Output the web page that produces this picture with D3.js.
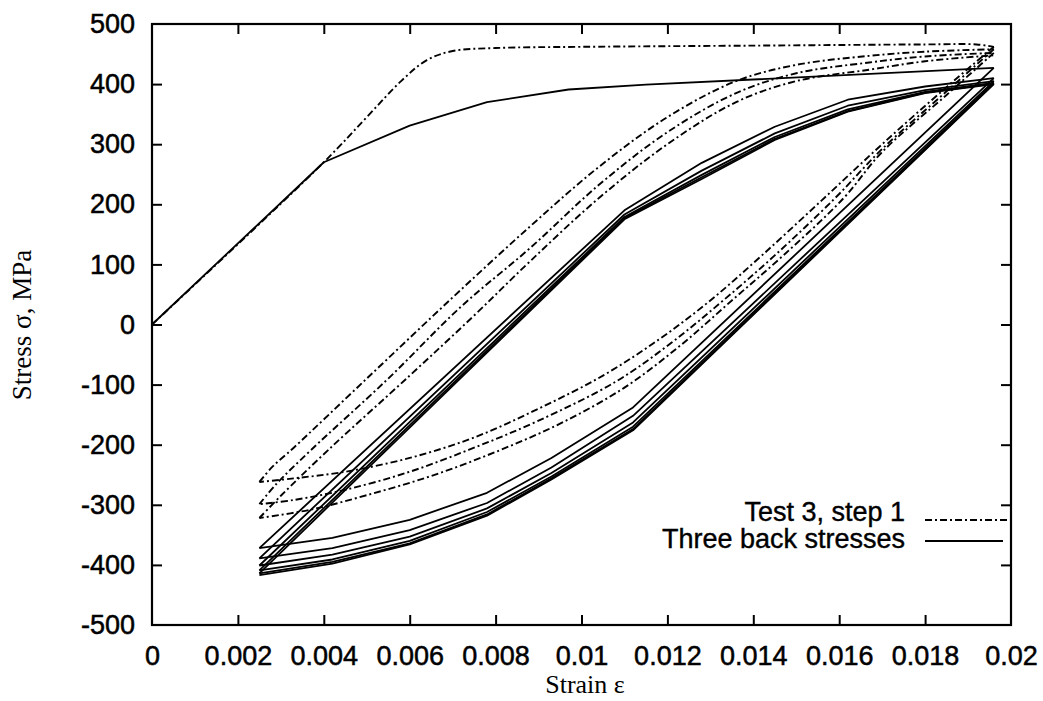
<!DOCTYPE html>
<html>
<head>
<meta charset="utf-8">
<script src="https://cdn.jsdelivr.net/npm/d3@7"></script>
<style>
  html, body { margin: 0; padding: 0; background: #fff; }
  svg { display: block; }
</style>
</head>
<body>
<svg id="chart" width="1043" height="701"></svg>
<script>
// ---- axis ticks ----
const strainTicks = [0, 0.002, 0.004, 0.006, 0.008, 0.01, 0.012, 0.014, 0.016, 0.018, 0.02];
const strainTickLabels = ["0", "0.002", "0.004", "0.006", "0.008", "0.01", "0.012", "0.014", "0.016", "0.018", "0.02"];
const stressTicks = [-500, -400, -300, -200, -100, 0, 100, 200, 300, 400, 500];
const stressTickLabels = ["-500", "-400", "-300", "-200", "-100", "0", "100", "200", "300", "400", "500"];

// ---- model with three back stresses (solid) ----
const modelInitial = [[0, 0], [0.004, 270], [0.006, 331], [0.0078, 370], [0.0097, 391], [0.0115, 399], [0.0196, 427]];
// unloading branches share strain vertices
const modelUnloadStrain = [0.0196, 0.0112, 0.0093, 0.0078, 0.006, 0.0042, 0.0025];
const modelUnloadStress = [
  [427, -138, -222, -280, -325, -355, -372],
  [410, -152, -238, -297, -342, -372, -389],
  [405, -163, -247, -306, -353, -383, -401],
  [402, -170, -253, -312, -360, -391, -409],
  [401, -174, -256, -316, -364, -395, -414],
  [400, -176, -258, -318, -366, -398, -417]
];
// reloading branches share strain vertices
const modelReloadStrain = [0.0025, 0.011, 0.0128, 0.0145, 0.0162, 0.018, 0.0196];
const modelReloadStress = [
  [-372, 190, 269, 329, 374, 396, 410],
  [-389, 183, 256, 318, 364, 390, 405],
  [-401, 179, 249, 312, 358, 387, 402],
  [-409, 177, 245, 309, 355, 386, 401],
  [-414, 175, 242, 307, 354, 385, 400]
];

// ---- Test 3, step 1 (dash-dot) ----
const testInitial = [[0, 0], [0.004, 270], [0.005, 345], [0.0058, 405], [0.0064, 440], [0.007, 455], [0.008, 460],
  [0.01, 462], [0.014, 464], [0.018, 466], [0.0192, 466], [0.0196, 462]];
const testUnload1 = [[0.0196, 462], [0.0185, 395], [0.017, 300], [0.0156, 207], [0.0142, 115], [0.013, 40], [0.0118, -25],
  [0.0105, -85], [0.009, -140], [0.0075, -188], [0.006, -222], [0.0045, -245], [0.0033, -256], [0.0025, -262]];
const testReload1 = [[0.0025, -262], [0.0028, -237], [0.0033, -205], [0.005, -90], [0.007, 45], [0.0088, 163], [0.0104, 262],
  [0.012, 345], [0.0136, 405], [0.015, 432], [0.0167, 447], [0.018, 454], [0.0196, 458]];
const testUnload2 = [[0.0196, 458], [0.0185, 388], [0.017, 292], [0.0159, 210], [0.0145, 115], [0.0133, 40], [0.0121, -30],
  [0.0108, -95], [0.009, -160], [0.0075, -205], [0.006, -245], [0.0045, -275], [0.0033, -292], [0.0025, -299]];
const testReload2 = [[0.0025, -299], [0.0029, -265], [0.0037, -209], [0.0055, -90], [0.0072, 30], [0.0088, 127], [0.0104, 232],
  [0.012, 320], [0.0136, 385], [0.015, 418], [0.0167, 436], [0.018, 446], [0.0196, 452]];
const testUnload3 = [[0.0196, 452], [0.0185, 382], [0.017, 287], [0.0161, 210], [0.0147, 115], [0.0135, 40], [0.0123, -35],
  [0.011, -105], [0.0095, -165], [0.008, -212], [0.0065, -252], [0.005, -284], [0.0037, -308], [0.0025, -322]];
const testReload3 = [[0.0025, -322], [0.003, -285], [0.0041, -209], [0.006, -85], [0.0075, 15], [0.0088, 105], [0.0104, 210],
  [0.012, 300], [0.0136, 370], [0.015, 405], [0.0167, 424], [0.018, 438], [0.0196, 448]];

const legendLabels = ["Test 3, step 1", "Three back stresses"];

// ---- layout ----
const svg = d3.select("#chart");
const frame = { left: 152, right: 1011, top: 24, bottom: 625 };
const x = d3.scaleLinear().domain([0, 0.02]).range([frame.left, frame.right]);
const y = d3.scaleLinear().domain([-500, 500]).range([frame.bottom, frame.top]);

const sans = "'Liberation Sans', Arial, Helvetica, sans-serif";
const serif = "'Liberation Serif', 'Times New Roman', serif";
const dashDot = "7,3,2,3";

// axes with inward ticks
const fmtX = d => strainTickLabels[strainTicks.indexOf(d)];
const fmtY = d => stressTickLabels[stressTicks.indexOf(d)];
const gB = svg.append("g").attr("transform", `translate(0,${frame.bottom})`)
  .call(d3.axisBottom(x).tickValues(strainTicks).tickFormat(fmtX).tickSize(-10).tickPadding(21));
const gL = svg.append("g").attr("transform", `translate(${frame.left},0)`)
  .call(d3.axisLeft(y).tickValues(stressTicks).tickFormat(fmtY).tickSize(-10).tickPadding(17));
const gT = svg.append("g").attr("transform", `translate(0,${frame.top})`)
  .call(d3.axisTop(x).tickValues(strainTicks).tickFormat("").tickSize(-10));
const gR = svg.append("g").attr("transform", `translate(${frame.right},0)`)
  .call(d3.axisRight(y).tickValues(stressTicks).tickFormat("").tickSize(-10));

[gB, gL, gT, gR].forEach(g => {
  g.select(".domain").remove();
  g.selectAll(".tick line").attr("stroke", "#000").attr("stroke-width", 2);
  g.selectAll(".tick text").attr("fill", "#000")
    .attr("stroke", "#000").attr("stroke-width", 0.5)
    .style("font-family", sans).style("font-size", "27px");
});
// ticks at the frame corners are hidden by the frame itself
gB.selectAll(".tick line").filter(d => d === 0 || d === 0.02).remove();
gT.selectAll(".tick line").filter(d => d === 0 || d === 0.02).remove();
gL.selectAll(".tick line").filter(d => d === 500 || d === -500).remove();
gR.selectAll(".tick line").filter(d => d === 500 || d === -500).remove();

// plot frame
svg.append("rect")
  .attr("x", frame.left).attr("y", frame.top)
  .attr("width", frame.right - frame.left).attr("height", frame.bottom - frame.top)
  .attr("fill", "none").attr("stroke", "#000").attr("stroke-width", 2.2);

// curves
const plot = svg.append("g");
const poly = d3.line().x(d => x(d[0])).y(d => y(d[1]));
const smooth = d3.line().x(d => x(d[0])).y(d => y(d[1])).curve(d3.curveCatmullRom.alpha(0.5));

const modelBranches = [modelInitial];
modelUnloadStress.forEach((s, i) => {
  modelBranches.push(modelUnloadStrain.map((e, j) => [e, s[j]]));
  if (i < modelReloadStress.length) {
    modelBranches.push(modelReloadStrain.map((e, j) => [e, modelReloadStress[i][j]]));
  }
});

const testBranches = [testInitial, testUnload1, testReload1, testUnload2, testReload2, testUnload3, testReload3];

plot.selectAll("path.test").data(testBranches).join("path")
  .attr("class", "test")
  .attr("d", smooth)
  .attr("fill", "none").attr("stroke", "#000").attr("stroke-width", 1.9)
  .attr("stroke-dasharray", dashDot);

plot.selectAll("path.model").data(modelBranches).join("path")
  .attr("class", "model")
  .attr("d", poly)
  .attr("fill", "none").attr("stroke", "#000").attr("stroke-width", 1.8)
  .attr("stroke-linejoin", "round");

// legend
const legend = svg.append("g");
const legendRows = [
  { label: legendLabels[0], base: 521, lineY: 520, dash: dashDot, x2: 1008 },
  { label: legendLabels[1], base: 548, lineY: 541, dash: null, x2: 1003 }
];
legendRows.forEach(r => {
  legend.append("text")
    .attr("x", 905).attr("y", r.base)
    .attr("text-anchor", "end")
    .style("font-family", sans).style("font-size", "27px")
    .attr("fill", "#000").attr("stroke", "#000").attr("stroke-width", 0.4)
    .text(r.label);
  legend.append("line")
    .attr("x1", 925).attr("x2", r.x2)
    .attr("y1", r.lineY).attr("y2", r.lineY)
    .attr("stroke", "#000").attr("stroke-width", 1.9)
    .attr("stroke-dasharray", r.dash);
});

// axis titles
svg.append("text")
  .attr("transform", "translate(31,325) rotate(-90)")
  .attr("text-anchor", "middle")
  .style("font-family", serif).style("font-size", "27px")
  .attr("fill", "#000")
  .text("Stress σ, MPa");
svg.append("text")
  .attr("x", 585).attr("y", 693)
  .attr("text-anchor", "middle")
  .style("font-family", serif).style("font-size", "26px")
  .attr("fill", "#000")
  .text("Strain ε");
</script>
</body>
</html>
